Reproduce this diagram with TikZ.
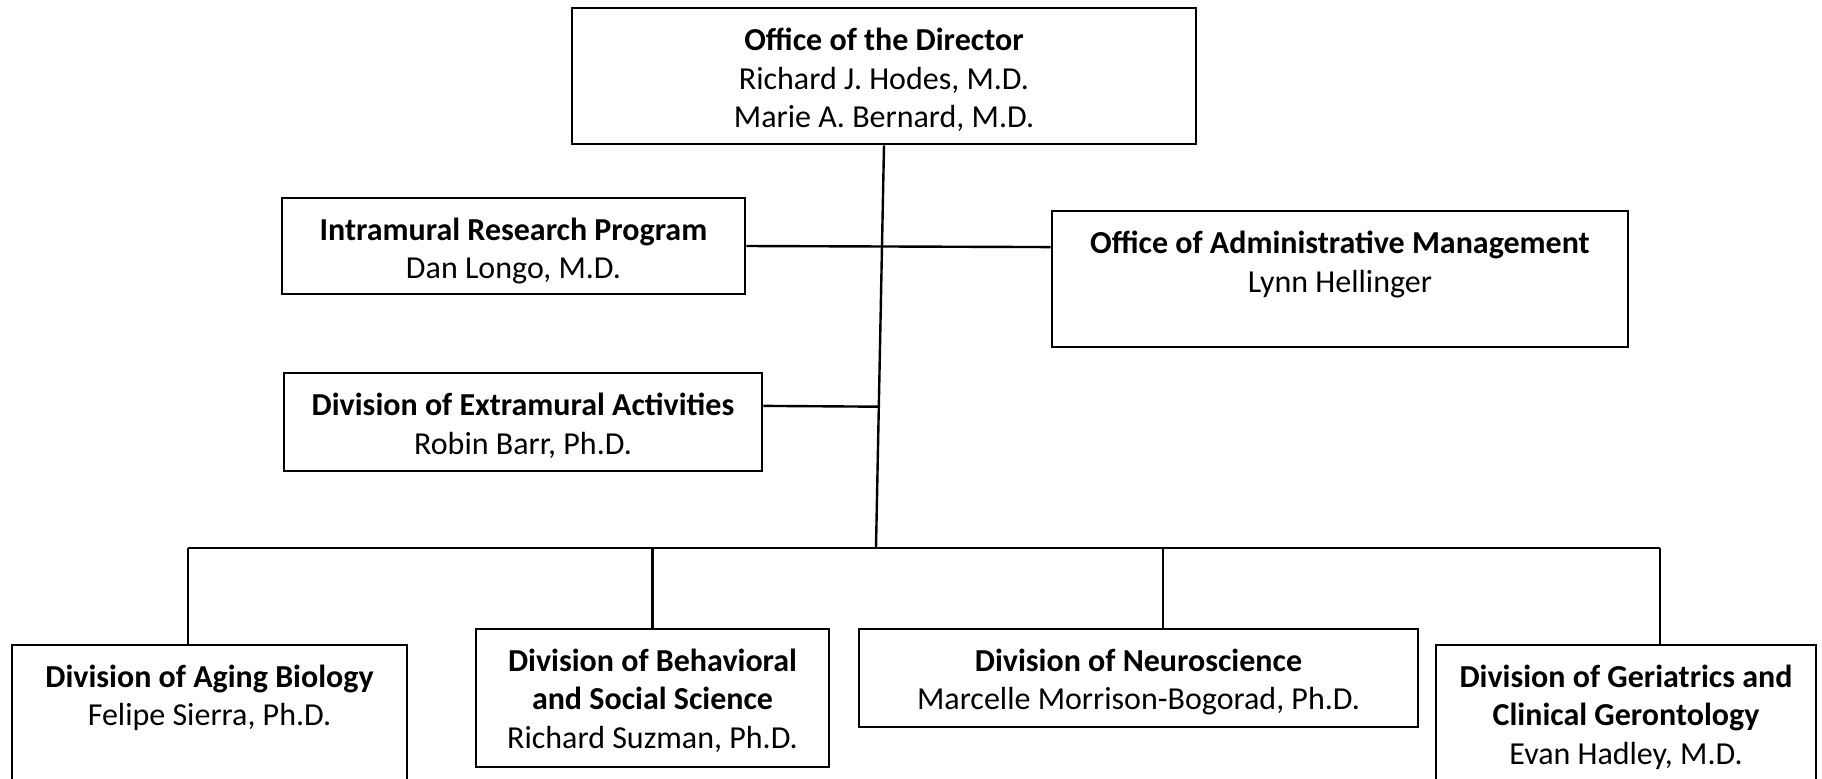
\documentclass[tikz,border=0pt]{standalone}
\usepackage{fontspec}
\setmainfont{Carlito}
\usetikzlibrary{calc}
\begin{document}
\begin{tikzpicture}[x=0.5pt,y=-0.5pt,
  orgbox/.style={draw, line width=1.4pt, inner sep=0pt, fill=white},
  orgtext/.style={anchor=north, align=center, inner sep=0pt,
    font=\fontsize{16pt}{19.25pt}\selectfont, yshift=-10.5pt},
  link/.style={line width=1.2pt}]
\useasboundingbox (0,0) rectangle (1822,778);
\clip (0,0) rectangle (1822,778);

% junction points of the trunk and the division bus
\coordinate (trunk) at (876,548);
\coordinate (bA) at (188,548);
\coordinate (bB) at (652.5,548);
\coordinate (bC) at (1163,548);
\coordinate (bD) at (1660,548);

% boxes
\node[orgbox, minimum width=312pt, minimum height=68pt] (dir) at (884,76) {};
\node[orgbox, minimum width=231.5pt, minimum height=48pt] (irp) at (513.5,246) {};
\node[orgbox, minimum width=288pt, minimum height=68pt] (oam) at (1340,279) {};
\node[orgbox, minimum width=239pt, minimum height=49pt] (dea) at (523,422) {};
\node[orgbox, minimum width=197.5pt, minimum height=82.5pt] (aging) at (209.5,727.5) {};
\node[orgbox, minimum width=176.5pt, minimum height=69pt] (behav) at (652.5,698) {};
\node[orgbox, minimum width=279.5pt, minimum height=49pt] (neuro) at (1138.5,678) {};
\node[orgbox, minimum width=190pt, minimum height=82.5pt] (geri) at (1626,727.5) {};

% labels
\node[orgtext] (dirT) at (dir.north) {\textbf{Office of the Director}\\Richard J. Hodes, M.D.\\Marie A. Bernard, M.D.};
\node[orgtext] (irpT) at (irp.north) {\textbf{Intramural Research Program}\\Dan Longo, M.D.};
\node[orgtext] (oamT) at (oam.north) {\textbf{Office of Administrative Management}\\Lynn Hellinger};
\node[orgtext] (deaT) at (dea.north) {\textbf{Division of Extramural Activities}\\Robin Barr, Ph.D.};
\node[orgtext] (agingT) at (aging.north) {\textbf{Division of Aging Biology}\\Felipe Sierra, Ph.D.};
\node[orgtext] (behavT) at (behav.north) {\textbf{Division of Behavioral}\\\textbf{and Social Science}\\Richard Suzman, Ph.D.};
\node[orgtext] (neuroT) at (neuro.north) {\textbf{Division of Neuroscience}\\Marcelle Morrison-Bogorad, Ph.D.};
\node[orgtext] (geriT) at (geri.north) {\textbf{Division of Geriatrics and}\\\textbf{Clinical Gerontology}\\Evan Hadley, M.D.};

% trunk from the director down to the division bus
\draw[link] (dir.south) -- (trunk);
% staff offices
\draw[link] (irp.east) -- ($(oam.north west)!0.27!(oam.south west)$);
\draw[link] ($(dea.north east)!0.34!(dea.south east)$) -- ($(dir.south)!0.649!(trunk)$);
% division bus and drops
\draw[link] (bA) -- (bD);
\draw[link] (bA) -- (bA |- aging.north);
\draw[link] (bB) -- (bB |- behav.north);
\draw[link] (bC) -- (bC |- neuro.north);
\draw[link] (bD) -- (bD |- geri.north);
\end{tikzpicture}
\end{document}
